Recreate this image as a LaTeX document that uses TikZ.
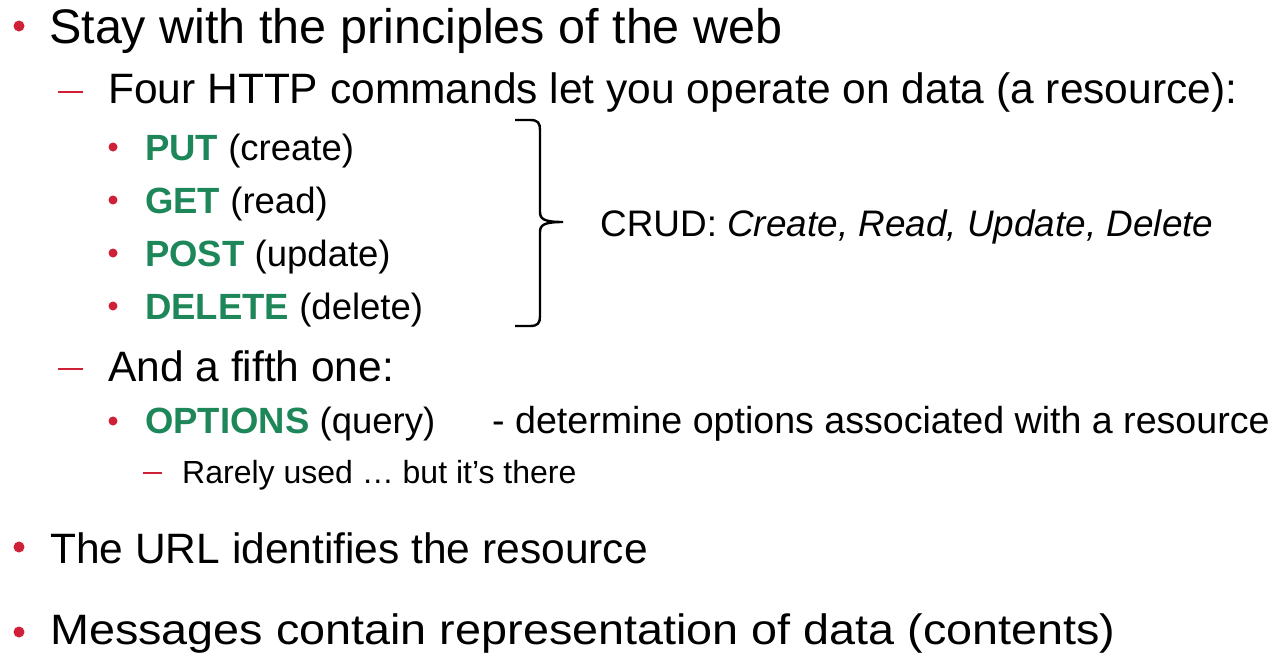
\documentclass[tikz,border=0pt]{standalone}
\usepackage{fontspec}
\setmainfont{Liberation Sans}
\usepackage{xcolor}
\usepackage{graphicx}
\usepackage{tikz}
\usetikzlibrary{positioning}
\definecolor{bulletred}{RGB}{208,32,56}
\definecolor{cmdgreen}{RGB}{30,135,90}

\begin{document}
\begin{tikzpicture}[
  x=1pt, y=-1pt,
  lvlone/.style={anchor=base west, inner sep=0pt, font=\fontsize{48.5}{58}\selectfont},
  lvltwo/.style={anchor=base west, inner sep=0pt, font=\fontsize{42.5}{50}\selectfont},
  lvlthree/.style={anchor=base west, inner sep=0pt, font=\fontsize{36.5}{44}\selectfont},
  lvlfour/.style={anchor=base west, inner sep=0pt, font=\fontsize{32}{38}\selectfont},
  bigdot/.style={circle, fill=bulletred, inner sep=0pt, minimum size=11pt},
  smalldot/.style={circle, fill=bulletred, inner sep=0pt, minimum size=9pt},
  redline/.style={draw=bulletred, line width=2.2pt},
]
  \useasboundingbox (0,0) rectangle (1276,653);

  % first block
  \node[bigdot] (b1) at (19,26) {};
  \node[lvlone] (stay) at (49,43) {Stay with the principles of the web};

  \draw[redline] (58,92) -- (83,92);
  \node[lvltwo] (four) at (108,103) {Four HTTP commands let you operate on data (a resource):};

  \node[smalldot] (d1) at (113,147) {};
  \node[lvlthree] (put) at (145,160) {\textcolor{cmdgreen}{\bfseries PUT} (create)};
  \node[smalldot] (d2) at (113,200) {};
  \node[lvlthree] (get) at (145,213) {\textcolor{cmdgreen}{\bfseries GET} (read)};
  \node[smalldot] (d3) at (113,253) {};
  \node[lvlthree] (post) at (145,266) {\textcolor{cmdgreen}{\bfseries POST} (update)};
  \node[smalldot] (d4) at (113,306) {};
  \node[lvlthree] (delete) at (145,319) {\textcolor{cmdgreen}{\bfseries DELETE} (delete)};

  % brace
  \draw[line width=2.4pt]
    (515,120) -- (530,120) .. controls (538,120) and (540,123) .. (540,130)
    -- (540,212) .. controls (540,219) and (544,222) .. (563,222)
    .. controls (544,222) and (540,225) .. (540,232)
    -- (540,316) .. controls (540,323) and (538,326) .. (530,326) -- (515,326);
  \node[lvlthree, font=\fontsize{36.9}{44}\selectfont] (crud) at (600,236) {CRUD: \textit{Create, Read, Update, Delete}};

  \draw[redline] (58,369) -- (83,369);
  \node[lvltwo] (fifth) at (108,381) {And a fifth one:};

  \node[smalldot] (d5) at (113,421) {};
  \node[lvlthree] (options) at (145,433) {\textcolor{cmdgreen}{\bfseries OPTIONS} (query)};
  \node[lvlthree, font=\fontsize{37.6}{44}\selectfont] (determine) at (492,433) {- determine options associated with a resource};

  \draw[redline] (143,473) -- (162,473);
  \node[lvlfour] (rarely) at (182,483) {Rarely used \dots\ but it’s there};

  % last two points
  \node[bigdot] (b2) at (19,547) {};
  \node[lvltwo] (url) at (50,563) {The URL identifies the resource};
  \node[bigdot] (b3) at (19,632) {};
  \node[lvltwo] (msg) at (50,644) {\scalebox{1.1}[1]{Messages contain representation of data (contents)}};
\end{tikzpicture}
\end{document}
